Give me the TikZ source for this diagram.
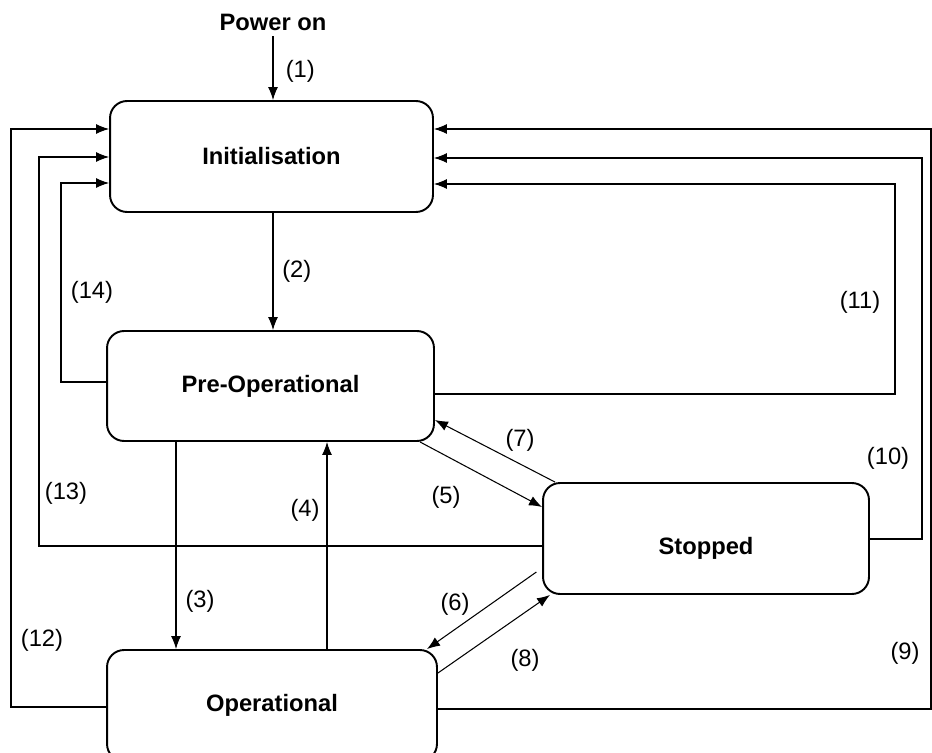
\documentclass[tikz,border=0pt]{standalone}
\usepackage{fontspec}
\setmainfont{Liberation Sans}
\usetikzlibrary{positioning,arrows.meta,calc}

\begin{document}
\begin{tikzpicture}[
    x=0.02cm, y=-0.02cm,
    font=\fontsize{13.5}{16}\selectfont,
    state/.style={
        draw,
        rounded corners=0.34cm,
        line width=1.1pt,
        minimum width=6.5cm,
        minimum height=2.22cm,
        align=center,
        font=\fontsize{13.5}{16}\selectfont\bfseries
    },
    arrow/.style={-{Latex[length=2.6mm, width=2mm]}, line width=0.6pt},
    num/.style={inner sep=1pt}
]
\clip (0,0) rectangle (932,753);

\node[font=\fontsize{13.5}{16}\selectfont\bfseries] (power) at (273,22) {Power on};
\node[state, minimum width=6.46cm] (init) at (271.5,156.5) {Initialisation};
\node[state, minimum width=6.54cm, minimum height=2.2cm] (pre) at (270.5,386) {Pre-Operational};
\node[state, minimum width=6.52cm, text height=0.72cm] (stop) at (706,538.5) {Stopped};
\node[state, minimum width=6.6cm] (op) at (272,705.5) {Operational};

% power on / boot
\draw[arrow] (power) -- (power |- init.north) node[num, pos=0.55, right=6pt] {(1)};
\draw[arrow] (init.south -| power) -- (power |- pre.north) node[num, midway, right=4pt] {(2)};

% pre-operational <-> operational
\draw[arrow] (176,0 |- pre.south) -- (176,0 |- op.north);
\draw[arrow] (327,0 |- op.north) -- (327,0 |- pre.south);

% stopped
\draw[arrow] (420,0 |- pre.south) -- (stop.west |- 0,507);
\draw[arrow] (555,0 |- stop.north) -- (pre.east |- 0,420);
\draw[arrow, shorten <=0.14cm] (stop.west |- 0,568) -- (427,0 |- op.north);
\draw[arrow] (op.east |- 0,673) -- (550,0 |- stop.south);

% back to initialisation (left)
\draw[arrow] (pre.west |- 0,382) -| (61,183) -- (init.west |- 0,183);
\draw[arrow] (stop.west |- 0,546) -| (39,157) -- (init.west |- 0,157);
\draw[arrow] (op.west |- 0,707) -| (11,129) -- (init.west |- 0,129);

% back to initialisation (right)
\draw[arrow] (pre.east |- 0,394) -| (895,184) -- (init.east |- 0,184);
\draw[arrow] (stop.east |- 0,539) -| (922,158) -- (init.east |- 0,158);
\draw[arrow] (op.east |- 0,709) -| (931,129) -- (init.east |- 0,129);

% numbers
\node[num] (n3) at (200,601) {(3)};
\node[num] (n4) at (305,510) {(4)};
\node[num] (n5) at (446,497) {(5)};
\node[num] (n6) at (455,604) {(6)};
\node[num] (n7) at (520,440) {(7)};
\node[num] (n8) at (525,660) {(8)};
\node[num] (n9) at (905,653) {(9)};
\node[num] (n10) at (888,458) {(10)};
\node[num] (n11) at (860,302) {(11)};
\node[num] (n12) at (42,640) {(12)};
\node[num] (n13) at (66,493) {(13)};
\node[num] (n14) at (92,292) {(14)};

\end{tikzpicture}
\end{document}
